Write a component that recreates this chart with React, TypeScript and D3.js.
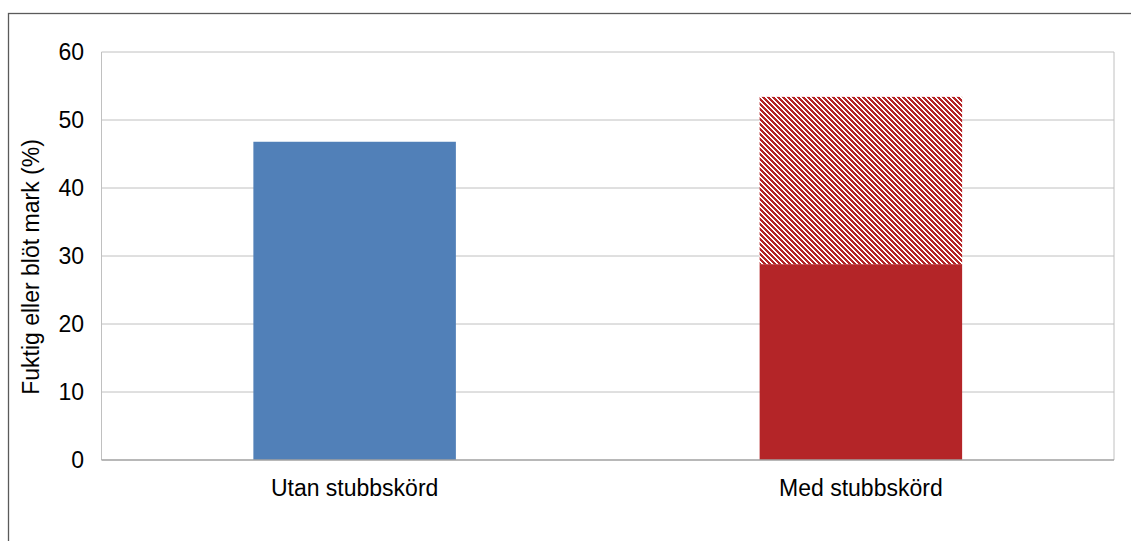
import * as d3 from "d3";

const categories = ["Utan stubbskörd", "Med stubbskörd"];
const baseValues = [46.8, 28.8];
const hatchValues = [0, 24.6];
const yTicks = [0, 10, 20, 30, 40, 50, 60];

const W = 1131;
const H = 541;
const margin = { top: 52, right: 17, bottom: 81, left: 101.5 };

const App = () => {
  const x = d3
    .scaleBand<string>()
    .domain(categories)
    .range([margin.left, W - margin.right])
    .paddingInner(0.6)
    .paddingOuter(0.3);

  const y = d3
    .scaleLinear()
    .domain([0, 60])
    .range([H - margin.bottom, margin.top]);

  const font = "'Liberation Sans', Arial, sans-serif";
  const fs = 23;
  const plotL = margin.left;
  const plotR = W - margin.right;

  // downward diagonal tile, period 5px
  const tile = 5;
  const hatchPx: [number, number][] = [];
  for (let r = 0; r < tile; r++) {
    for (let k = 0; k < 3; k++) hatchPx.push([(r + k) % tile, r]);
  }

  return (
    <svg
      width={W}
      height={H}
      style={{ position: "absolute", left: 0, top: 0, display: "block", background: "#fff" }}
    >
      <defs>
        <pattern id="hatch" width={tile} height={tile} patternUnits="userSpaceOnUse">
          <rect width={tile} height={tile} fill="#ffffff" />
          {hatchPx.map(([px, py], i) => (
            <rect key={i} x={px} y={py} width={1} height={1} fill="#b42528" shapeRendering="crispEdges" />
          ))}
        </pattern>
      </defs>

      <rect x={8.5} y={13.5} width={W + 20} height={H + 20} fill="none" stroke="#5a5a5a" strokeWidth={1.3} />

      {yTicks.map((t) => (
        <g key={t}>
          {t > 0 && (
            <line x1={plotL} x2={plotR} y1={y(t)} y2={y(t)} stroke="#c0c0c0" strokeWidth={1} />
          )}
          <text
            x={84}
            y={y(t)}
            dy="0.36em"
            textAnchor="end"
            fontFamily={font}
            fontSize={fs}
            fill="#000"
          >
            {t}
          </text>
        </g>
      ))}

      <line x1={plotL} x2={plotL} y1={y(60)} y2={y(0)} stroke="#c0c0c0" strokeWidth={1} />
      <line x1={plotR} x2={plotR} y1={y(60)} y2={y(0)} stroke="#c0c0c0" strokeWidth={1} />

      {categories.map((c, i) => (
        <g key={c}>
          <rect
            x={x(c)}
            width={x.bandwidth()}
            y={y(baseValues[i])}
            height={y(0) - y(baseValues[i])}
            fill={i === 0 ? "#5180b8" : "#b42528"}
          />
          {hatchValues[i] > 0 && (
            <rect
              x={x(c)}
              width={x.bandwidth()}
              y={y(baseValues[i] + hatchValues[i])}
              height={y(baseValues[i]) - y(baseValues[i] + hatchValues[i])}
              fill="url(#hatch)"
            />
          )}
          <text
            x={(x(c) ?? 0) + x.bandwidth() / 2}
            y={496}
            textAnchor="middle"
            fontFamily={font}
            fontSize={fs}
            fill="#000"
          >
            {c}
          </text>
        </g>
      ))}

      <line x1={plotL} x2={plotR} y1={y(0)} y2={y(0)} stroke="#a0a0a0" strokeWidth={1.5} />

      <text
        transform={`translate(39,267) rotate(-90)`}
        textAnchor="middle"
        fontFamily={font}
        fontSize={fs}
        fill="#000"
      >
        Fuktig eller blöt mark (%)
      </text>
    </svg>
  );
};

export default App;
